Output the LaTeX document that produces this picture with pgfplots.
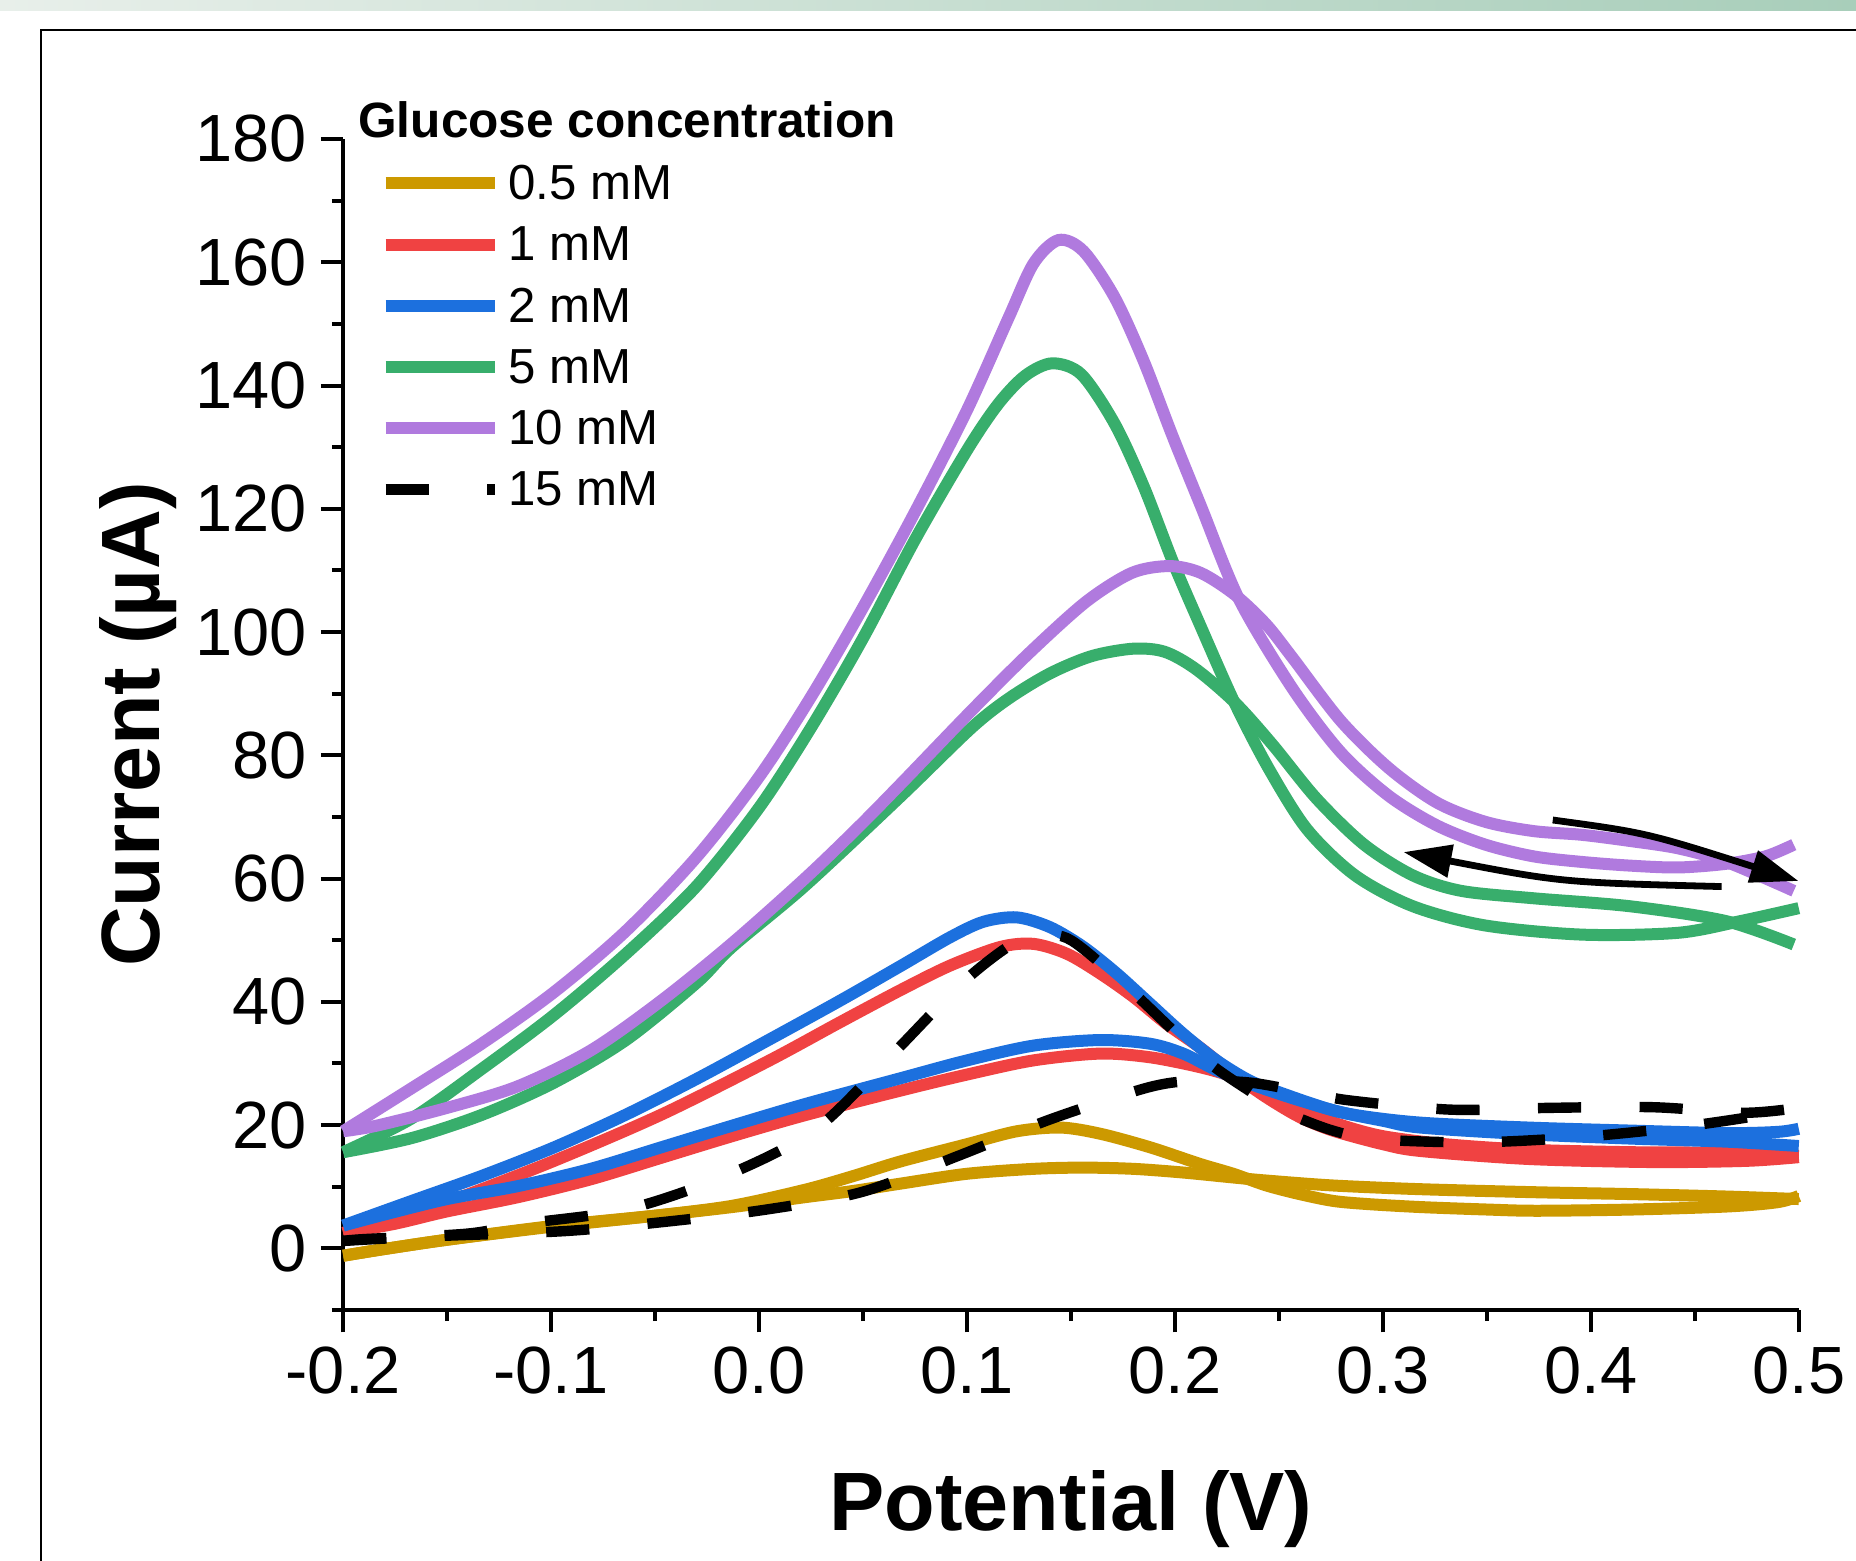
\documentclass[border=0pt]{standalone}
\usepackage{fontspec}
\setmainfont{Liberation Sans}
\usepackage{pgfplots}
\pgfplotsset{compat=1.18}
\usetikzlibrary{arrows.meta}
\definecolor{cYel}{RGB}{204,153,0}
\definecolor{cRed}{RGB}{240,66,66}
\definecolor{cBlue}{RGB}{28,112,222}
\definecolor{cGreen}{RGB}{56,174,108}
\definecolor{cPurp}{RGB}{176,122,222}
\begin{document}
\begin{tikzpicture}
\useasboundingbox (0pt,0pt) rectangle (464pt,390.25pt);
\shade[left color={rgb,255:red,232;green,239;blue,234}, right color={rgb,255:red,168;green,206;blue,186}] (0pt,387.5pt) rectangle (464pt,390.25pt);
\draw[line width=0.7pt] (10.25pt,-2pt) -- (10.25pt,382.75pt) -- (470pt,382.75pt);
\begin{axis}[
  at={(85.8pt,62.75pt)}, anchor=south west,
  scale only axis, width=363.9pt, height=292.75pt,
  xmin=-0.2, xmax=0.5, ymin=-10, ymax=180,
  axis x line*=bottom, axis y line*=left,
  axis line style={line width=1pt},
  every tick/.style={line width=1pt, black},
  tick align=outside,
  major tick length=5.6pt, minor tick length=2.8pt,
  xtick={-0.2,-0.1,0,0.1,0.2,0.3,0.4,0.5},
  xticklabels={-0.2,-0.1,0.0,0.1,0.2,0.3,0.4,0.5},
  minor xtick={-0.15,-0.05,0.05,0.15,0.25,0.35,0.45},
  ytick={0,20,40,60,80,100,120,140,160,180},
  yticklabels={0,20,40,60,80,100,120,140,160,180},
  minor ytick={-10,10,30,50,70,90,110,130,150,170},
  ticklabel style={font=\fontsize{16.7}{20}\selectfont},
  xlabel={Potential (V)}, ylabel={Current (µA)},
  label style={font=\fontsize{20.7}{24}\selectfont\bfseries},
  xlabel style={at={(axis description cs:0.5,-0.1884)}, anchor=base},
  ylabel style={at={(axis description cs:-0.1259,0.5)}, anchor=base},
  clip=false,
  legend cell align=left,
  legend style={draw=none, fill=none, inner sep=0pt, outer sep=0pt,
    at={(0.0251,0.9761)}, anchor=north west, row sep=7.1pt, column sep=2.0pt,
    nodes={inner sep=0pt, text height=8.2pt, text depth=0pt, font=\fontsize{12.3}{14}\selectfont}},
  legend image code/.code={\draw[#1] (0pt,0pt) -- (27.2pt,0pt);},
  every axis plot/.append style={line width=3pt, smooth},
]
% 0.5 mM
\addplot[cYel] coordinates {(-0.2,-1.2) (-0.18,-0.1) (-0.15,1.4) (-0.1,3.5) (-0.05,5.3) (-0.013,6.9) (0.022,9.5) (0.045,11.7) (0.068,14.1) (0.1,16.9) (0.124,19.0) (0.145,19.6) (0.164,18.6) (0.188,16.4) (0.212,13.7) (0.228,12.1) (0.244,10.2) (0.26,8.8) (0.276,7.7) (0.292,7.2) (0.318,6.7) (0.35,6.3) (0.374,6.1) (0.42,6.3) (0.466,6.8) (0.49,7.5) (0.5,8.5)};
\addlegendentry{0.5 mM}
\addplot[cYel, forget plot] coordinates {(-0.2,-1.2) (-0.18,-0.1) (-0.15,1.4) (-0.1,3.6) (-0.05,5.3) (-0.013,6.7) (0.022,8.3) (0.045,9.3) (0.068,10.5) (0.1,12.1) (0.132,12.9) (0.156,13.1) (0.18,12.9) (0.204,12.3) (0.228,11.5) (0.244,11.0) (0.276,10.2) (0.318,9.6) (0.374,9.1) (0.42,8.8) (0.466,8.4) (0.5,8.0)};
% 1 mM
\addplot[cRed] coordinates {(-0.2,2.5) (-0.175,5.0) (-0.15,7.5) (-0.1,14.0) (-0.047,21.7) (0.0045,30.4) (0.039,36.7) (0.068,41.9) (0.092,45.9) (0.116,48.9) (0.132,49.4) (0.148,47.8) (0.164,44.6) (0.18,40.8) (0.196,36.4) (0.212,32.6) (0.228,28.3) (0.244,24.5) (0.26,21.3) (0.276,19.1) (0.3,16.9) (0.318,15.8) (0.37,14.5) (0.43,14.0) (0.475,14.2) (0.5,14.8)};
\addlegendentry{1 mM}
\addplot[cRed, forget plot] coordinates {(-0.2,2.5) (-0.175,4.0) (-0.15,6.0) (-0.116,8.3) (-0.081,11.2) (-0.047,14.7) (-0.013,18.2) (0.022,21.6) (0.068,25.6) (0.1,28.2) (0.132,30.5) (0.164,31.6) (0.188,31.0) (0.212,29.4) (0.228,27.8) (0.244,25.1) (0.26,22.5) (0.28,20.0) (0.3,18.2) (0.33,16.9) (0.37,16.0) (0.42,15.6) (0.466,15.5) (0.5,15.0)};
% 2 mM
\addplot[cBlue] coordinates {(-0.2,3.7) (-0.167,7.7) (-0.133,11.8) (-0.0985,16.4) (-0.064,21.7) (-0.03,27.5) (0.0045,33.8) (0.039,40.2) (0.068,45.8) (0.092,50.5) (0.108,53.0) (0.124,53.7) (0.14,52.1) (0.156,48.9) (0.172,44.6) (0.188,39.7) (0.204,34.8) (0.22,30.5) (0.236,27.2) (0.252,25.1) (0.276,22.4) (0.3,20.7) (0.318,19.6) (0.37,18.5) (0.42,17.8) (0.466,17.3) (0.5,16.6)};
\addlegendentry{2 mM}
\addplot[cBlue, forget plot] coordinates {(-0.2,3.7) (-0.18,5.5) (-0.15,8.0) (-0.116,10.1) (-0.081,12.9) (-0.047,16.4) (-0.013,19.9) (0.022,23.4) (0.068,27.6) (0.1,30.5) (0.132,32.9) (0.164,33.8) (0.188,33.2) (0.204,31.6) (0.22,28.9) (0.236,26.7) (0.26,24.0) (0.284,21.8) (0.318,20.4) (0.37,19.6) (0.42,19.1) (0.466,18.7) (0.49,18.9) (0.5,19.4)};
% 5 mM
\addplot[cGreen] coordinates {(-0.2,15.6) (-0.167,21.1) (-0.133,29.2) (-0.0985,37.9) (-0.064,47.8) (-0.03,58.8) (0.0,71.5) (0.025,84.5) (0.05,99) (0.075,115) (0.1,129.5) (0.115,137) (0.128,141.6) (0.141,143.6) (0.155,141.8) (0.171,133.8) (0.185,123.6) (0.199,111.4) (0.212,101.2) (0.2287,88.5) (0.245,77.9) (0.2635,68.0) (0.2867,60.5) (0.3145,55.5) (0.349,52.4) (0.396,50.9) (0.442,51.2) (0.472,53.1) (0.5,55.2)};
\addlegendentry{5 mM}
\addplot[cGreen, forget plot] coordinates {(-0.2,15.6) (-0.167,17.9) (-0.133,21.7) (-0.0985,26.9) (-0.064,33.8) (-0.03,43.1) (-0.013,48.9) (0.022,58.8) (0.068,73.3) (0.102,84.4) (0.12,89.2) (0.14,93.3) (0.16,96.1) (0.18,97.3) (0.195,96.8) (0.21,94.0) (0.229,88.5) (0.247,81.7) (0.268,73.0) (0.291,65.5) (0.3145,60.5) (0.3377,58.0) (0.3725,56.8) (0.419,55.5) (0.465,53.1) (0.4976,49.3)};
% 10 mM
\addplot[cPurp] coordinates {(-0.2,19.0) (-0.167,26.0) (-0.133,33.3) (-0.0985,41.6) (-0.064,51.5) (-0.03,63.5) (0.0,76.5) (0.025,89.5) (0.05,104) (0.075,119.5) (0.1,136) (0.12,151) (0.132,159.8) (0.144,163.6) (0.156,161.8) (0.171,154.3) (0.1848,144.1) (0.1986,132.0) (0.2124,120.5) (0.231,105.2) (0.2566,90.8) (0.2797,80.5) (0.3029,73.4) (0.3261,68.6) (0.3493,65.5) (0.3725,63.6) (0.3956,62.7) (0.4188,62.1) (0.442,61.8) (0.4652,62.4) (0.484,63.6) (0.4976,65.5)};
\addlegendentry{10 mM}
\addplot[cPurp, forget plot] coordinates {(-0.2,19.0) (-0.184,19.9) (-0.15,22.8) (-0.116,26.3) (-0.081,32.1) (-0.047,40.2) (-0.013,49.5) (0.022,60.0) (0.047,68.1) (0.068,75.3) (0.102,87.2) (0.1296,96.5) (0.1572,104.9) (0.1793,109.6) (0.1973,110.7) (0.2124,109.6) (0.229,106.0) (0.244,101.2) (0.2566,95.8) (0.2797,85.6) (0.3029,77.9) (0.3261,72.3) (0.3493,69.2) (0.3725,67.7) (0.3956,67.1) (0.4188,66.1) (0.442,64.9) (0.4652,62.7) (0.4976,58.0)};
% 15 mM
\addplot[black, line width=2.6pt, dash pattern=on 10.8pt off 14.6pt] coordinates {(-0.2,1.2) (-0.19,1.5) (-0.14,2.4) (-0.113,4.0) (-0.064,6.3) (-0.018,11.5) (0.026,19.0) (0.061,30.4) (0.0965,42.7) (0.12,49.0) (0.134,50.8) (0.15,50.0) (0.178,42.1) (0.213,31.0) (0.236,25.5) (0.251,22.4) (0.275,19.2) (0.297,17.7) (0.345,17.2) (0.393,18.0) (0.441,19.6) (0.48,21.5) (0.5,23.0)};
\addlegendentry{15 mM}
\addplot[black, line width=2.6pt, dash pattern=on 10.8pt off 14.6pt, forget plot] coordinates {(-0.2,1.2) (-0.162,1.9) (-0.0934,2.8) (-0.0453,4.3) (0.0036,6.3) (0.05,9.2) (0.0957,15.0) (0.1406,21.0) (0.187,26.1) (0.21,27.2) (0.236,26.9) (0.26,25.5) (0.284,24.0) (0.333,22.5) (0.381,22.8) (0.43,22.9) (0.474,22.0) (0.5,22.8)};
% arrows
\draw[line width=1.7pt, -{Triangle[length=12pt,width=8pt]}] (axis cs:0.3817,69.5) .. controls (axis cs:0.4269,67.42) .. (axis cs:0.4999,59.6);
\draw[line width=1.7pt, -{Triangle[length=12pt,width=8pt]}] (axis cs:0.4629,58.7) .. controls (axis cs:0.3859,59.37) .. (axis cs:0.3099,64.3);
\end{axis}
\node[anchor=base west, inner sep=0pt, font=\fontsize{12.4}{14}\selectfont\bfseries] at (89.4pt,355.8pt) {Glucose concentration};
\end{tikzpicture}
\end{document}
